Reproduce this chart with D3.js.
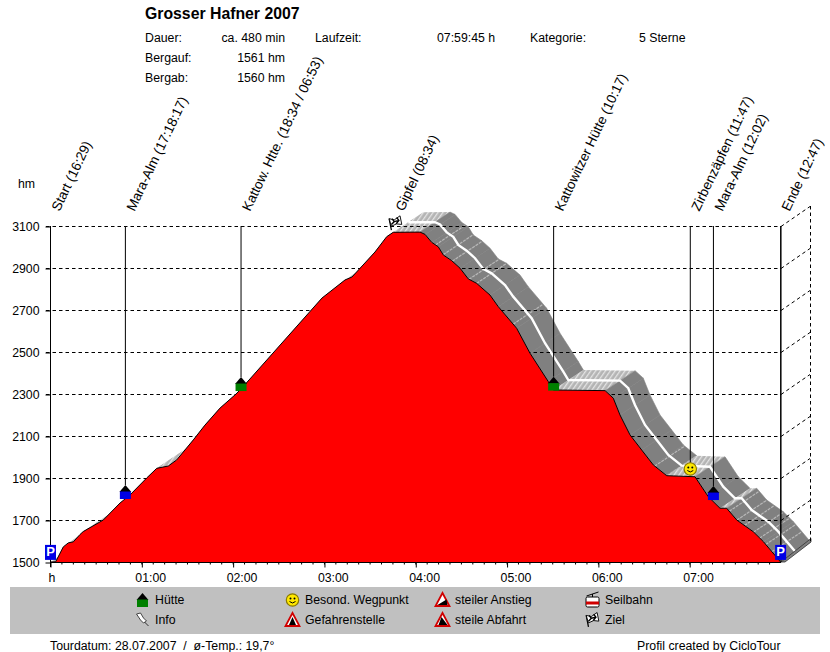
<!doctype html>
<html>
<head>
<meta charset="utf-8">
<style>
  html, body { margin: 0; padding: 0; background: #fff; }
  svg { display: block; }
  text { font-family: "Liberation Sans", Arial, sans-serif; font-size: 12.3px; fill: #000; }
</style>
<script src="https://d3js.org/d3.v7.min.js"></script>
</head>
<body>
<script>
  //profile, minutes since start and height
  var profileMinutes = [0,3.4,8.4,11.7,15,19.4,21.5,34.7,45.7,52.2,63.2,69.8,77.4,82.9,93.8,101.5,111.4,121.9,125.2,178.4,193.5,198.1,213.2,220.9,225.2,242.8,246.1,250.5,254.8,258.1,263.6,269.1,274.5,280,288.8,294.2,306.3,315.1,327.1,330.4,364.4,369.8,374.2,380.8,388.5,396.1,404.9,423.5,432.2,439.9,444.3,450.9,461.8,468.4,479.75];
  var profileHm = [1500,1501,1572,1591,1596,1631,1645,1700,1781,1819,1900,1946,1957,1986,2081,2152,2233,2300,2324,2757,2843,2857,2976,3049,3070,3071,3060,3022,3001,2962,2935,2899,2848,2827,2771,2716,2613,2494,2359,2319,2316,2280,2200,2105,2033,1962,1911,1906,1811,1756,1756,1700,1644,1597,1500];

  //waypoints
  var pointNames = ["Start (16:29)","Mara-Alm (17:18:17)","Kattow. Htte. (18:34 / 06:53)","Gipfel (08:34)","Kattowitzer Hütte (10:17)","Zirbenzäpfen (11:47)","Mara-Alm (12:02)","Ende (12:47)"];
  var pointMinutes = [0,49.2,125.2,226,330.6,420.4,435.6,479.75];
  var pointHm = [1510,1800,2314,3070,2316,1943,1795,1510];
  var pointTypes = ["park","hutBlue","hutGreen","flag","hutGreen","smiley","hutBlue","park"];

  //light stripes across the grey band
  var stripeMinutes = [253,258,264,275,280,304,397,405,446,451,456,462,466,470,474];

  var yTicks = [1500,1700,1900,2100,2300,2500,2700,2900,3100];
  var xTicks = [0,60,120,180,240,300,360,420];
  var xTickLabels = ["h","01:00","02:00","03:00","04:00","05:00","06:00","07:00"];
  var xMinorTicks = d3.range(0,480,7.5);

  var title = "Grosser Hafner 2007";
  var infoLeft = ["Dauer:","Bergauf:","Bergab:"];
  var infoLeftValues = ["ca. 480 min","1561 hm","1560 hm"];

  var legendNames = ["Hütte","Info","Besond. Wegpunkt","Gefahrenstelle","steiler Anstieg","steile Abfahrt","Seilbahn","Ziel"];
  var legendTypes = ["hutGreen","info","smiley","danger","up","down","cable","flag"];

  var depthX = 30, depthY = -20;

  var svg = d3.select("body").append("svg").attr("width",830).attr("height",652);
  var defs = svg.append("defs");
  var hatch = defs.append("pattern").attr("id","hatch").attr("width",4).attr("height",4)
                  .attr("patternUnits","userSpaceOnUse").attr("patternTransform","rotate(35)");
  hatch.append("rect").attr("width",4).attr("height",4).attr("fill","#b4b4b4");
  hatch.append("rect").attr("width",1.3).attr("height",4).attr("fill","#e4e4e4");

  var xScale = d3.scaleLinear().domain([0,480]).range([50.5,781]);
  var yScale = d3.scaleLinear().domain([1500,3100]).range([562,226]);

  //grey band behind the profile
  var band = svg.append("g");
  for(var i=0; i<profileMinutes.length-1; i++){
    var x0 = xScale(profileMinutes[i]), x1 = xScale(profileMinutes[i+1]);
    var y0 = yScale(profileHm[i]), y1 = yScale(profileHm[i+1]);
    var rate = (profileHm[i]-profileHm[i+1])/(profileMinutes[i+1]-profileMinutes[i]);
    var fill = rate > 1.5 ? "#808080" : "url(#hatch)";
    band.append("path")
        .attr("d","M"+x0+","+y0+"L"+x1+","+y1+"L"+(x1+depthX)+","+(y1+depthY)+"L"+(x0+depthX)+","+(y0+depthY)+"Z")
        .attr("fill",fill)
        .attr("stroke",rate > 1.5 ? "#808080" : "none")
        .attr("stroke-width",0.6);
  }

  function profileAt(m){
    return d3.scaleLinear().domain(profileMinutes).range(profileHm)(m);
  }
  stripeMinutes.forEach(function(m){
    var x = xScale(m), y = yScale(profileAt(m));
    band.append("line").attr("x1",x).attr("y1",y).attr("x2",x+depthX).attr("y2",y+depthY)
        .attr("stroke","#b8b8b8").attr("stroke-width",1.2).attr("stroke-dasharray","3 1");
  });

  var line = d3.line()
               .x(function(d,i){ return xScale(profileMinutes[i]); })
               .y(function(d){ return yScale(d); });

  //white middle line, only on the way down
  var firstDown = profileMinutes.indexOf(225.2);
  svg.append("path")
     .attr("d",d3.line()
        .x(function(d){ return xScale(profileMinutes[d])+depthX/2; })
        .y(function(d){ return yScale(profileHm[d])+depthY/2; })(d3.range(firstDown,profileMinutes.length)))
     .attr("fill","none").attr("stroke","#fff").attr("stroke-width",2.4);

  //floor edge on the right
  svg.append("path")
     .attr("d","M781,562L811,538.5L811,542L785,562Z")
     .attr("fill","#808080").attr("stroke","#333").attr("stroke-width",0.8);

  //grid
  var grid = svg.append("g").attr("fill","none").attr("stroke","#000").attr("stroke-dasharray","3.5 3");
  yTicks.forEach(function(v){
    if(v==1500) return;
    var y = yScale(v);
    grid.append("line").attr("x1",46).attr("x2",781).attr("y1",y+0.5).attr("y2",y+0.5);
    grid.append("line").attr("x1",781).attr("x2",781+depthX-1).attr("y1",y+0.5).attr("y2",y+0.5+depthY);
  });
  grid.append("line").attr("x1",810.5).attr("x2",810.5).attr("y1",yScale(3100)+depthY).attr("y2",yScale(1500)+depthY);

  //red profile
  var area = d3.area()
               .x(function(d,i){ return xScale(profileMinutes[i]); })
               .y0(yScale(1500))
               .y1(function(d){ return yScale(d); });
  svg.append("path").attr("d",area(profileHm)).attr("fill","#ff0000");
  svg.append("path").attr("d",line(profileHm)).attr("fill","none").attr("stroke","#000").attr("stroke-width",1);

  //axes
  var yAxis = svg.append("g").attr("transform","translate(50.5,0.5)")
      .call(d3.axisLeft(yScale).tickValues(yTicks).tickSize(5).tickPadding(6).tickFormat(d3.format("d")));
  yAxis.select(".domain").remove();
  yAxis.selectAll("text").style("font-size","12.3px").style("font-family",null);
  svg.append("line").attr("x1",50.5).attr("x2",50.5).attr("y1",226).attr("y2",567).attr("stroke","#000");
  svg.append("line").attr("x1",781).attr("x2",781).attr("y1",226).attr("y2",562).attr("stroke","#000");

  var xAxis = svg.append("g").attr("transform","translate(0,562.5)")
      .call(d3.axisBottom(xScale).tickValues(xTicks).tickSize(5).tickPadding(6)
              .tickFormat(function(d,i){ return xTickLabels[i]; }));
  xAxis.select(".domain").attr("d","M50.5,0H781");
  xAxis.selectAll("text").attr("text-anchor","start").attr("dx","-7").style("font-size","12.3px").style("font-family",null);
  xAxis.selectAll("text").filter(function(d){ return d==0; }).attr("dx","-2.5");
  svg.append("g").attr("transform","translate(0,562.5)").selectAll("line")
     .data(xMinorTicks).enter().append("line")
     .attr("x1",function(d){ return xScale(d); }).attr("x2",function(d){ return xScale(d); })
     .attr("y1",0).attr("y2",2).attr("stroke","#000");

  //icons
  function hut(g,color){
    g.append("path").attr("d","M-6,-7L0,-14L6,-7Z").attr("fill","#000");
    g.append("rect").attr("x",-5.5).attr("y",-7.5).attr("width",11).attr("height",7.5).attr("fill",color);
  }
  function smiley(g){
    g.append("circle").attr("r",6.2).attr("fill","#ffe800").attr("stroke","#8a7a00").attr("stroke-width",1.2);
    g.append("circle").attr("cx",-2).attr("cy",-1.5).attr("r",1).attr("fill","#000");
    g.append("circle").attr("cx",2).attr("cy",-1.5).attr("r",1).attr("fill","#000");
    g.append("path").attr("d","M-3,1.5Q0,4.5 3,1.5").attr("fill","none").attr("stroke","#000");
  }
  function flag(g){
    var f = g.append("g").attr("transform","scale(1.15)");
    f.append("line").attr("x1",-3.5).attr("y1",6).attr("x2",-5.5).attr("y2",-4).attr("stroke","#000").attr("stroke-width",1.1);
    f.append("path").attr("d","M-5.5,-4L-1,-3L4,-6.5L5.5,1L1,0.5L-3.5,2.5Z").attr("fill","#fff").attr("stroke","#000").attr("stroke-width",0.8);
    f.append("path").attr("d","M-3,-4L-1,-1.5L-3.5,1M1,-5L3,-2.5L0.5,0.5M-1,-1.5L3,-2.5").attr("fill","none").attr("stroke","#000").attr("stroke-width",1.2);
  }
  function park(g){
    g.append("rect").attr("x",-5.5).attr("y",-15).attr("width",11).attr("height",15).attr("fill","#0000e6");
    g.append("text").attr("x",0).attr("y",-3.5).attr("text-anchor","middle")
     .style("font-weight","bold").style("font-size","13px").style("fill","#fff").text("P");
  }
  function triangle(g,inner){
    g.append("path").attr("d","M0,-7L7,6L-7,6Z").attr("fill","#fff").attr("stroke","#d00000").attr("stroke-width",1.8);
    g.append("path").attr("d",inner).attr("fill","#000");
  }
  function info(g){
    g.append("path").attr("d","M-6,-6L-2,-7L1,-2L4,1L1,3L-2,0Z").attr("fill","#fff").attr("stroke","#333").attr("stroke-width",0.9);
    g.append("line").attr("x1",2).attr("y1",2).attr("x2",6).attr("y2",6).attr("stroke","#333");
  }
  function cable(g){
    g.append("path").attr("d","M-6,-4L6,-8M0,-6V-3").attr("stroke","#000").attr("fill","none");
    g.append("rect").attr("x",-6.5).attr("y",-3).attr("width",13).attr("height",10).attr("rx",1.5).attr("fill","#fff").attr("stroke","#000");
    g.append("rect").attr("x",-6.5).attr("y",1.5).attr("width",13).attr("height",3).attr("fill","#d00000");
  }
  function icon(g,type){
    if(type=="hutGreen") hut(g,"#008000");
    if(type=="hutBlue") hut(g,"#0000e6");
    if(type=="smiley") smiley(g);
    if(type=="flag") flag(g);
    if(type=="park") park(g);
    if(type=="danger") triangle(g,"M0,-3L3.5,5H-3.5Z");
    if(type=="up") triangle(g,"M4,-0.5L5,5H-5Z");
    if(type=="down") triangle(g,"M-1,-3L5,5H-4Z");
    if(type=="info") info(g);
    if(type=="cable") cable(g);
  }

  //waypoints, lines then icons then names
  pointMinutes.forEach(function(m,i){
    var x = xScale(m), y = yScale(pointHm[i]);
    var top = {park:15,hutBlue:14,hutGreen:14,smiley:6,flag:0}[pointTypes[i]];
    if(pointTypes[i]!="flag" && i>0){
      svg.append("line").attr("x1",x).attr("x2",x).attr("y1",226).attr("y2",y-top).attr("stroke","#000");
    }
    var g = svg.append("g").attr("transform",pointTypes[i]=="flag" ? "translate("+(x+1)+","+(y-9)+")" : "translate("+x+","+y+")");
    icon(g,pointTypes[i]);
    svg.append("text").attr("transform","translate("+(x+9)+",212) rotate(-64.5)").style("font-size","13.6px").text(pointNames[i]);
  });

  //heading
  svg.append("text").attr("x",145).attr("y",19).style("font-weight","bold").style("font-size","15.8px").text(title);
  infoLeft.forEach(function(t,i){
    svg.append("text").attr("x",145).attr("y",42+i*20).text(t);
    svg.append("text").attr("x",285).attr("y",42+i*20).attr("text-anchor","end").text(infoLeftValues[i]);
  });
  svg.append("text").attr("x",315).attr("y",42).text("Laufzeit:");
  svg.append("text").attr("x",437).attr("y",42).text("07:59:45 h");
  svg.append("text").attr("x",530).attr("y",42).text("Kategorie:");
  svg.append("text").attr("x",639).attr("y",42).text("5 Sterne");
  svg.append("text").attr("x",18).attr("y",188).text("hm");

  //legend
  svg.append("rect").attr("x",10).attr("y",587).attr("width",810).attr("height",47).attr("fill","#c0c0c0");
  legendNames.forEach(function(t,i){
    var col = Math.floor(i/2), row = i%2;
    var x = 142.5+col*150;
    var y = row==0 ? 600 : 620;
    var g = svg.append("g").attr("transform","translate("+x+","+y+")");
    if(legendTypes[i]=="hutGreen") g.attr("transform","translate("+x+","+(y+7)+")");
    icon(g,legendTypes[i]);
    svg.append("text").attr("x",155+col*150).attr("y",y+4).text(t);
  });

  //footer
  svg.append("text").attr("x",50).attr("y",650).attr("xml:space","preserve").style("white-space","pre").text("Tourdatum: 28.07.2007  /  ø-Temp.: 19,7°");
  svg.append("text").attr("x",637).attr("y",650).text("Profil created by CicloTour");
</script>
</body>
</html>
